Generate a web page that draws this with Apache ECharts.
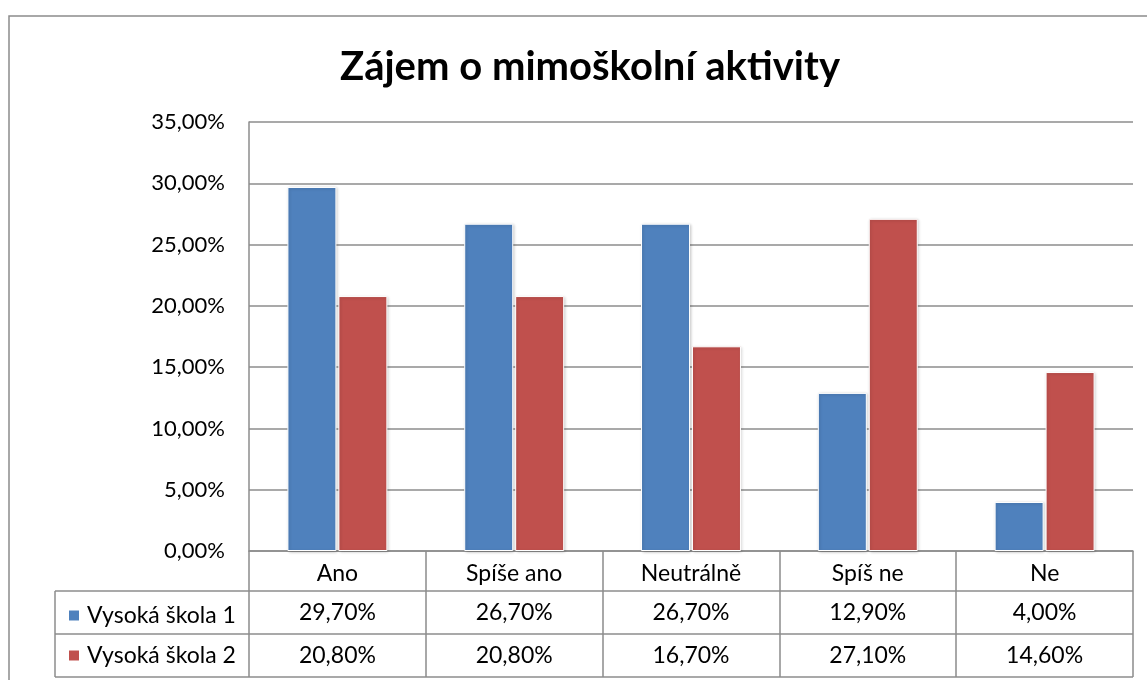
<!DOCTYPE html>
<html>
<head>
<meta charset="utf-8">
<script src="https://cdn.jsdelivr.net/npm/echarts@6/dist/echarts.min.js"></script>
<style>
  html, body { margin: 0; padding: 0; background: #fff; }
  #chart { width: 1147px; height: 680px; }
</style>
</head>
<body>
<div id="chart"></div>
<script>
// data
var categories = ['Ano', 'Spíše ano', 'Neutrálně', 'Spíš ne', 'Ne'];
var seriesNames = ['Vysoká škola 1', 'Vysoká škola 2'];
var school1 = [0.297, 0.267, 0.267, 0.129, 0.04];
var school2 = [0.208, 0.208, 0.167, 0.271, 0.146];
var colors = ['#4F81BD', '#C0504D'];

var FONT = 'Lato, "Open Sans", sans-serif';
var lineCol = '#8c8c8c';

function pct(v) {
    return (v * 100).toFixed(2).replace('.', ',') + '%';
}

var myChart = echarts.init(document.getElementById('chart'));

function barSeries(name, data, color) {
    return {
        name: name,
        type: 'bar',
        data: data,
        barWidth: 49,
        barGap: '4%',
        itemStyle: {
            color: color,
            borderColor: '#fff',
            borderWidth: 1,
            shadowBlur: 3,
            shadowOffsetX: 1,
            shadowOffsetY: 1,
            shadowColor: 'rgba(0,0,0,0.2)'
        }
    };
}

var option = {
    animation: false,
    backgroundColor: '#fff',
    textStyle: { fontFamily: FONT },
    title: {
        text: 'Zájem o mimoškolní aktivity',
        left: 585,
        top: 42,
        textAlign: 'center',
        textStyle: { fontFamily: FONT, fontWeight: 'bold', fontSize: 40, color: '#000' }
    },
    legend: {
        orient: 'vertical',
        left: 62,
        top: 599,
        itemGap: 17,
        itemWidth: 12,
        itemHeight: 12,
        icon: 'rect',
        textStyle: { fontFamily: FONT, fontSize: 23, color: '#000', padding: [0, 0, 0, 2] },
        data: seriesNames
    },
    grid: { left: 249, right: 14, top: 122, bottom: 129 },
    xAxis: {
        type: 'category',
        data: categories,
        axisLine: { show: true, lineStyle: { color: lineCol, width: 1.5 } },
        axisTick: { show: true, length: 126, lineStyle: { color: lineCol, width: 1.5 } },
        axisLabel: { fontFamily: FONT, fontSize: 23, color: '#000', margin: 11 }
    },
    yAxis: {
        type: 'value',
        min: 0,
        max: 0.35,
        interval: 0.05,
        axisLine: { show: true, lineStyle: { color: lineCol, width: 1.5 } },
        axisTick: { show: false },
        splitLine: { lineStyle: { color: lineCol, width: 1.5 } },
        axisLabel: {
            fontFamily: FONT, fontSize: 22, color: '#000', margin: 24,
            formatter: function (v) { return pct(v); }
        }
    },
    series: [
        barSeries(seriesNames[0], school1, colors[0]),
        barSeries(seriesNames[1], school2, colors[1])
    ]
};

myChart.setOption(option);

// data table under the axis, placed from the category axis
var rowTop = 591, rowH = 43;
var tableLeft = 55, tableRight = 1133;
var rows = [school1, school2];
var elems = [];

// outer chart border
elems.push({
    type: 'rect', silent: true,
    shape: { x: 9, y: 16, width: 1160, height: 700 },
    style: { fill: null, stroke: lineCol, lineWidth: 1.5 }
});
// horizontal table lines
for (var r = 0; r <= rows.length; r++) {
    elems.push({
        type: 'line', silent: true,
        shape: { x1: tableLeft, y1: rowTop + r * rowH, x2: tableRight, y2: rowTop + r * rowH },
        style: { stroke: lineCol, lineWidth: 1.5 }
    });
}
// left border of the legend column
elems.push({
    type: 'line', silent: true,
    shape: { x1: tableLeft, y1: rowTop, x2: tableLeft, y2: rowTop + rows.length * rowH },
    style: { stroke: lineCol, lineWidth: 1.5 }
});
// value cells
for (var r2 = 0; r2 < rows.length; r2++) {
    for (var i = 0; i < categories.length; i++) {
        var cx = myChart.convertToPixel({ xAxisIndex: 0 }, i);
        elems.push({
            type: 'text', silent: true,
            x: cx, y: rowTop + r2 * rowH + rowH / 2,
            style: {
                text: pct(rows[r2][i]),
                fontFamily: FONT, fontSize: 23, fill: '#000',
                align: 'center', verticalAlign: 'middle'
            }
        });
    }
}

myChart.setOption({ graphic: { elements: elems } });
</script>
</body>
</html>
